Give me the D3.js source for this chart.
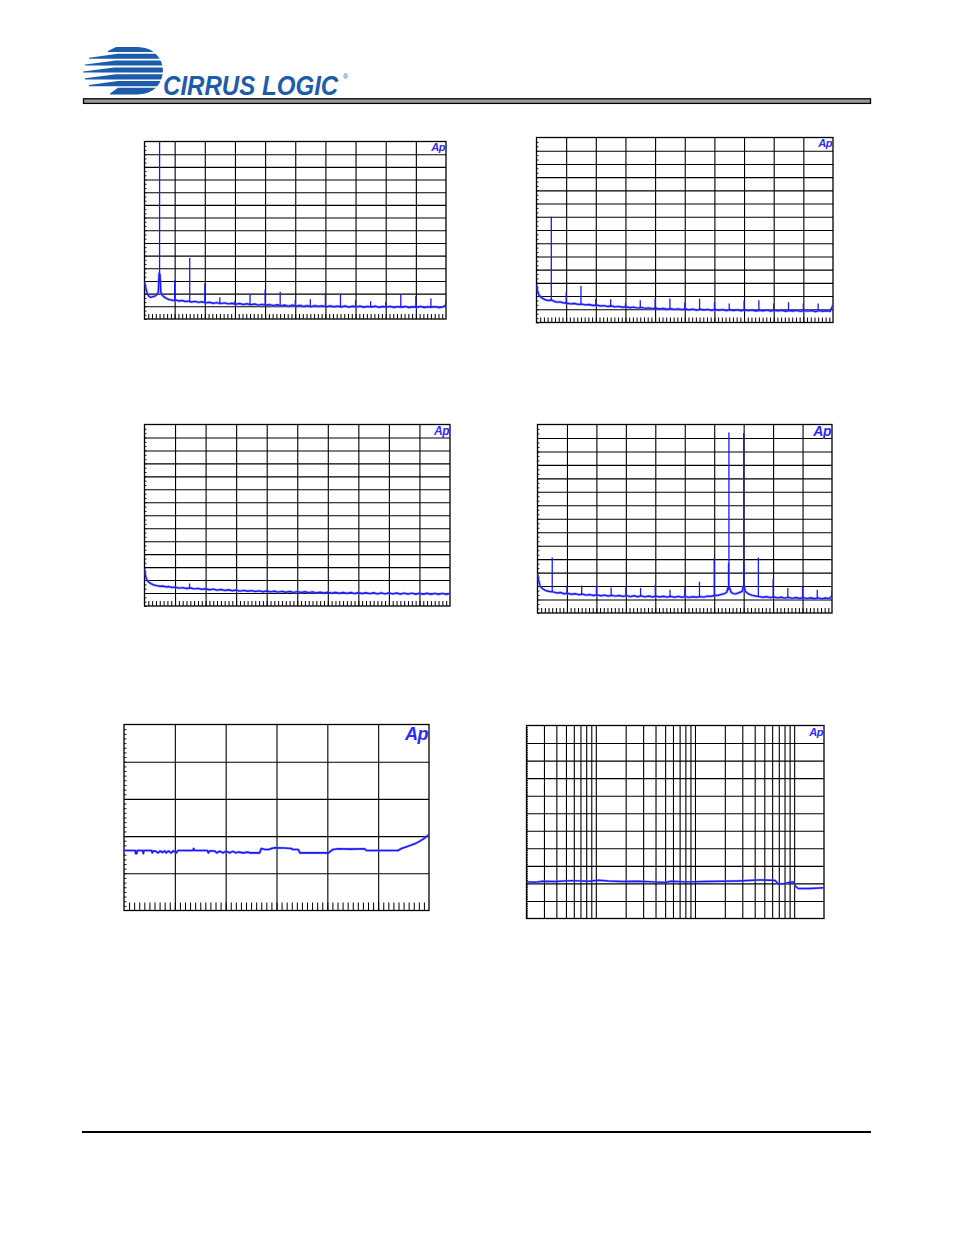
<!DOCTYPE html>
<html>
<head>
<meta charset="utf-8">
<script src="https://cdn.jsdelivr.net/npm/d3@7"></script>
<style>
html,body{margin:0;padding:0;background:#fff;}
svg{display:block;}
</style>
</head>
<body>
<svg id="page" width="954" height="1235"></svg>
<script>
// ---------------- DATA ----------------
// FFT panels: x in kHz, y in dBFS. Floors are [kHz, dB]; spikes are [kHz, base dB, peak dB]
const fft1Floor = [[0,-110.5],[0.08,-115.5],[0.18,-119.8],[0.3,-122.2],[0.42,-122.9],[0.55,-122.4],[0.7,-121.9],[0.82,-120.8],[0.92,-118.5],[0.97,-104],[1.03,-105],[1.08,-118.8],[1.18,-121.2],[1.3,-122.6],[1.45,-123.7],[1.6,-124.6],[1.75,-124.9],[1.9,-125.4],[2.1,-125.1],[2.3,-125.8],[2.5,-125.4],[2.7,-126.2],[2.9,-125.9],[3.1,-126.6],[3.35,-126.1],[3.6,-126.9],[3.8,-126.4],[4.05,-127.3],[4.3,-126.8],[4.55,-127.6],[4.8,-127.1],[5.05,-127.9],[5.3,-127.3],[5.55,-128.1],[5.8,-127.6],[6.05,-128.4],[6.3,-127.8],[6.55,-128.6],[6.8,-128.0],[7.05,-128.8],[7.3,-128.2],[7.55,-129.1],[7.8,-128.5],[8.05,-129.2],[8.3,-128.6],[8.55,-129.5],[8.8,-128.8],[9.05,-129.6],[9.3,-129.0],[9.55,-129.8],[9.8,-129.1],[10.05,-129.9],[10.3,-129.2],[10.55,-130.1],[10.8,-129.4],[11.05,-130.2],[11.3,-129.5],[11.55,-130.0],[11.8,-129.6],[12.05,-130.4],[12.3,-129.7],[12.55,-130.3],[12.8,-129.8],[13.05,-130.5],[13.3,-129.7],[13.55,-130.6],[13.8,-129.9],[14.05,-130.4],[14.3,-129.8],[14.55,-130.7],[14.8,-130.0],[15.05,-130.5],[15.3,-129.9],[15.55,-130.8],[15.8,-130.1],[16.05,-130.6],[16.3,-130.0],[16.55,-130.9],[16.8,-130.2],[17.05,-130.7],[17.3,-130.1],[17.55,-131.0],[17.8,-130.3],[18.05,-130.8],[18.3,-130.1],[18.55,-130.9],[18.8,-130.4],[19.05,-130.7],[19.3,-130.2],[19.55,-131.0],[19.8,-130.4],[20,-129.0]];
const fft1Spikes = [[1,-104,0],[2,-125,-109.4],[3,-126,-91.9],[4,-127,-112],[5,-127.5,-122.8],[6,-128,-125.7],[7,-128.5,-120.7],[8,-129,-116.8],[9,-129,-118.6],[10,-129.5,-125],[11,-129.5,-124.4],[12,-129.8,-119.7],[13,-130,-120.7],[14,-130,-125],[15,-130,-126],[16,-130.2,-126.5],[17,-130.3,-120.2],[18,-130.3,-121.8],[19,-130.4,-123.9],[19.98,-129.5,-125]];

const fft2Floor = [[0,-111],[0.06,-115.5],[0.15,-118.8],[0.3,-121],[0.45,-122],[0.6,-122.8],[0.8,-123.4],[0.95,-123],[1.05,-123.2],[1.2,-124.1],[1.4,-124.6],[1.6,-124.4],[1.8,-125.1],[2.05,-125.4],[2.3,-125.9],[2.55,-125.6],[2.8,-126.3],[3.05,-126.1],[3.3,-126.7],[3.55,-126.4],[3.8,-127.1],[4.05,-126.8],[4.3,-127.5],[4.55,-127.2],[4.8,-127.9],[5.05,-127.5],[5.3,-128.2],[5.55,-127.8],[5.8,-128.5],[6.05,-128.1],[6.3,-128.8],[6.55,-128.4],[6.8,-129.1],[7.05,-128.6],[7.3,-129.3],[7.55,-128.9],[7.8,-129.5],[8.05,-129.1],[8.3,-129.8],[8.55,-129.3],[8.8,-130.0],[9.05,-129.5],[9.3,-130.1],[9.55,-129.7],[9.8,-130.3],[10.05,-129.8],[10.3,-130.4],[10.55,-129.9],[10.8,-130.6],[11.05,-130.0],[11.3,-130.5],[11.55,-130.1],[11.8,-130.8],[12.05,-130.2],[12.3,-130.7],[12.55,-130.3],[12.8,-131.0],[13.05,-130.4],[13.3,-130.9],[13.55,-130.4],[13.8,-131.1],[14.05,-130.5],[14.3,-131.0],[14.55,-130.6],[14.8,-131.3],[15.05,-130.7],[15.3,-131.1],[15.55,-130.6],[15.8,-131.4],[16.05,-130.8],[16.3,-131.2],[16.55,-130.7],[16.8,-131.5],[17.05,-130.9],[17.3,-131.3],[17.55,-130.8],[17.8,-131.6],[18.05,-131.0],[18.3,-131.4],[18.55,-130.9],[18.8,-131.7],[19.05,-131.0],[19.3,-131.5],[19.55,-131.1],[19.8,-131.6],[20,-127.0]];
const fft2Spikes = [[1,-123,-60],[2,-125.4,-117.3],[3,-126.1,-112.3],[4,-126.9,-122.4],[5,-127.6,-122.4],[6,-128.2,-125.6],[7,-128.7,-123.1],[8,-129.2,-121.8],[9,-129.6,-121.8],[10,-129.9,-124.9],[11,-130.1,-122.1],[12,-130.3,-124.4],[13,-130.5,-125.6],[14,-130.6,-123.4],[15,-130.8,-123.1],[16,-130.9,-125.6],[17,-131,-124.6],[18,-131.1,-125.6],[19,-131.2,-125.6]];

const fft3Floor = [[0,-111.2],[0.04,-115],[0.1,-118.4],[0.18,-120.3],[0.3,-121.8],[0.45,-122.9],[0.6,-123.8],[0.8,-124.3],[1.0,-124.8],[1.2,-124.6],[1.4,-125.3],[1.6,-125.0],[1.8,-125.7],[2.0,-125.4],[2.25,-126.2],[2.5,-125.8],[2.75,-126.5],[3.0,-126.1],[3.25,-126.8],[3.5,-126.4],[3.75,-127.1],[4.0,-126.7],[4.25,-127.5],[4.5,-127.0],[4.75,-127.8],[5.0,-127.3],[5.25,-128.0],[5.5,-127.5],[5.75,-128.2],[6.0,-127.7],[6.25,-128.5],[6.5,-127.9],[6.75,-128.6],[7.0,-128.1],[7.25,-128.8],[7.5,-128.3],[7.75,-129.0],[8.0,-128.4],[8.25,-129.1],[8.5,-128.6],[8.75,-129.3],[9.0,-128.7],[9.25,-129.4],[9.5,-128.8],[9.75,-129.5],[10.0,-128.9],[10.25,-129.6],[10.5,-129.0],[10.75,-129.7],[11.0,-129.1],[11.25,-129.9],[11.5,-129.3],[11.75,-130.0],[12.0,-129.4],[12.25,-130.1],[12.5,-129.5],[12.75,-130.2],[13.0,-129.6],[13.25,-130.3],[13.5,-129.6],[13.75,-130.4],[14.0,-129.7],[14.25,-130.4],[14.5,-129.8],[14.75,-130.5],[15.0,-129.8],[15.25,-130.6],[15.5,-129.9],[15.75,-130.6],[16.0,-130.0],[16.25,-130.7],[16.5,-130.0],[16.75,-130.8],[17.0,-130.1],[17.25,-130.8],[17.5,-130.1],[17.75,-130.9],[18.0,-130.2],[18.25,-130.9],[18.5,-130.2],[18.75,-131.0],[19.0,-130.3],[19.25,-131.0],[19.5,-130.3],[19.75,-131.0],[20.0,-130.4]];
const fft3Spikes = [[2.95,-126,-122.7]];

const fft4Floor = [[0,-110.4],[0.06,-115],[0.18,-120.2],[0.35,-122],[0.55,-123.3],[0.8,-124],[1.05,-124.3],[1.3,-125.1],[1.55,-124.8],[1.8,-125.7],[2.05,-125.4],[2.3,-126.1],[2.55,-125.7],[2.8,-126.4],[3.05,-126.0],[3.3,-126.7],[3.55,-126.3],[3.8,-127.0],[4.05,-126.5],[4.3,-127.2],[4.55,-126.7],[4.8,-127.4],[5.05,-126.9],[5.3,-127.5],[5.55,-127.0],[5.8,-127.7],[6.05,-127.1],[6.3,-127.8],[6.55,-127.2],[6.8,-127.9],[7.05,-127.3],[7.3,-128.0],[7.55,-127.4],[7.8,-128.1],[8.05,-127.5],[8.3,-128.1],[8.55,-127.6],[8.8,-128.2],[9.05,-127.6],[9.3,-128.3],[9.55,-127.7],[9.8,-128.3],[10.05,-127.8],[10.3,-128.4],[10.55,-127.9],[10.8,-128.3],[11.05,-127.8],[11.3,-128.2],[11.55,-127.5],[11.8,-127.6],[12.05,-127.0],[12.3,-126.8],[12.5,-126.2],[12.7,-125.6],[12.85,-124.6],[12.95,-121],[13.05,-121.5],[13.15,-124.6],[13.3,-125.6],[13.45,-125.8],[13.6,-125.2],[13.75,-124.6],[13.9,-124.0],[13.97,-120.5],[14.05,-121],[14.12,-124.0],[14.25,-125.2],[14.4,-126.2],[14.6,-126.9],[14.8,-127.4],[15.05,-127.8],[15.3,-128.3],[15.55,-127.9],[15.8,-128.6],[16.05,-128.1],[16.3,-128.8],[16.55,-128.3],[16.8,-129.0],[17.05,-128.4],[17.3,-129.1],[17.55,-128.5],[17.8,-129.2],[18.05,-128.6],[18.3,-129.3],[18.55,-128.7],[18.8,-129.4],[19.05,-128.8],[19.3,-129.5],[19.55,-128.9],[19.8,-129.3],[20,-127.5]];
const fft4Spikes = [[1,-124.3,-98.8],[2,-125.4,-119.5],[3,-126,-119.5],[4,-126.5,-119.8],[5,-126.9,-121],[6,-127.1,-121],[7,-127.3,-121.5],[8,-127.5,-119],[9,-127.6,-122.7],[10,-127.8,-121],[11,-127.8,-116.8],[12,-127,-99.3],[12.97,-123,-103],[13,-121,-5.9],[14,-120.5,-6.4],[14.03,-122,-104],[15,-127.8,-98.8],[16,-128.1,-114.8],[17,-128.4,-121.5],[18,-128.6,-120.3],[19,-128.8,-122.7],[19.98,-127.5,-123.5]];

// Panel 5: linear x (0..60), y in dB (-100..-50)
const sweep5 = [[0,-83.87],[2.2,-83.87],[2.3,-84.68],[2.5,-84.68],[2.6,-83.87],[3.7,-83.87],[3.8,-84.68],[3.95,-83.87],[5.4,-83.87],[5.55,-84.5],[5.7,-84.05],[6.2,-84.05],[6.7,-84.5],[7.1,-84.0],[7.6,-84.4],[8.0,-84.0],[8.3,-84.5],[8.7,-84.0],[9.3,-84.5],[9.7,-83.95],[10.3,-84.5],[10.6,-83.87],[13.55,-83.87],[13.7,-83.33],[13.9,-83.87],[16.4,-83.87],[16.6,-84.5],[16.9,-83.95],[17.8,-84.0],[18.3,-84.5],[18.8,-84.05],[19.5,-84.5],[20.0,-84.1],[20.8,-84.5],[21.4,-84.1],[22.0,-84.5],[22.6,-84.3],[23.4,-84.5],[24.4,-84.3],[24.7,-84.5],[26.7,-84.5],[27.0,-83.33],[27.7,-83.6],[28.5,-83.6],[29.0,-83.33],[29.6,-83.15],[31.5,-83.2],[32.9,-83.33],[33.2,-83.6],[34.3,-83.6],[34.6,-84.5],[39.8,-84.5],[40.1,-84.68],[40.4,-84.3],[41.1,-83.6],[42.1,-83.42],[44.5,-83.5],[47.3,-83.42],[47.7,-83.87],[53.9,-83.87],[54.6,-83.33],[55.9,-82.7],[57.2,-82.08],[58.2,-81.36],[59.2,-80.47],[60,-79.57]];

// Panel 6: log x (20 Hz .. 20 kHz), y in dB (-1.0 .. +0.1)
const resp6 = [[20,-0.791],[25,-0.793],[29,-0.788],[39,-0.789],[57,-0.784],[85,-0.788],[106,-0.782],[134,-0.786],[182,-0.789],[267,-0.788],[392,-0.791],[494,-0.795],[575,-0.788],[845,-0.791],[1240,-0.789],[1820,-0.788],[2670,-0.786],[3920,-0.782],[4570,-0.780],[5750,-0.782],[6430,-0.783],[6950,-0.803],[7810,-0.801],[9120,-0.793],[9840,-0.791],[10300,-0.816],[11000,-0.829],[14450,-0.829],[20000,-0.825]];

const logGrid6 = [30,40,50,60,70,80,90,100,200,300,400,500,600,700,800,900,1000,2000,3000,4000,5000,6000,7000,8000,9000,10000];
const brandName = "CIRRUS LOGIC";
const apMark = "Ap";

// ---------------- DRAWING ----------------
const svg = d3.select("#page");
const TRACE = "#1a1aff";
const LOGO = "#1d5cab";

// header logo
const defs = svg.append("defs");
const cp = defs.append("clipPath").attr("id","logoClip");
cp.append("rect").attr("x",70).attr("y",40).attr("width",69.5).attr("height",60);
cp.append("circle").attr("cx",139.5).attr("cy",70.8).attr("r",23.5);
const logoG = svg.append("g").attr("clip-path","url(#logoClip)");
const stripes = [
  {t:47.0,b:52.0,xl:108,xs:116},
  {t:53.8,b:58.8,xl:89,xs:118},
  {t:60.6,b:65.6,xl:85,xs:116},
  {t:67.4,b:72.6,xl:83,xs:114},
  {t:74.2,b:79.4,xl:85,xs:116},
  {t:81.0,b:86.2,xl:89,xs:118},
  {t:87.8,b:94.5,xl:110,xs:118}
];
stripes.forEach(s=>{
  logoG.append("path")
    .attr("d",`M${s.xl},${s.b-1.1} L${s.xs},${s.t} L170,${s.t} L170,${s.b} L${s.xl},${s.b} Z`)
    .attr("fill",LOGO);
});
svg.append("text").attr("transform","translate(163,95) scale(0.86,1)").text(brandName)
  .attr("font-family","'Liberation Sans', Arial, sans-serif").attr("font-style","italic")
  .attr("font-weight","bold")
  .attr("font-size",28).attr("fill",LOGO);
svg.append("text").attr("x",343).attr("y",79).text("®").attr("font-family","'Liberation Sans', Arial")
  .attr("font-size",7).attr("fill",LOGO);
svg.append("rect").attr("x",83.5).attr("y",98.8).attr("width",787).attr("height",4.6)
  .attr("fill","#9a9a9a").attr("stroke","#000").attr("stroke-width",1.3);

// footer rule
svg.append("line").attr("x1",82).attr("x2",871).attr("y1",1132).attr("y2",1132)
  .attr("stroke","#000").attr("stroke-width",2.2);

let clipId = 0;
function drawPanel(p){
  const x = p.x, y = p.y;
  const [x0,x1] = x.range(), [y1,y0] = y.range();
  const g = svg.append("g");
  const W = x1-x0, H = y1-y0;
  // grid through axes
  g.append("g").attr("transform",`translate(0,${y1})`)
    .call(d3.axisBottom(x).tickValues(p.xGrid).tickSize(-H).tickFormat(""))
    .call(s=>s.select(".domain").remove())
    .selectAll("line").attr("stroke","#000").attr("stroke-width",1.1);
  g.append("g").attr("transform",`translate(${x0},0)`)
    .call(d3.axisLeft(y).tickValues(p.yGrid).tickSize(-W).tickFormat(""))
    .call(s=>s.select(".domain").remove())
    .selectAll("line").attr("stroke","#000").attr("stroke-width",1.1);
  // minor ticks
  if(p.xMinor){
    g.append("g").attr("transform",`translate(0,${y1})`)
      .call(d3.axisBottom(x).tickValues(p.xMinor).tickSize(-p.xMinorLen).tickFormat(""))
      .call(s=>s.select(".domain").remove())
      .selectAll("line").attr("stroke","#000").attr("stroke-width",1);
  }
  if(p.yMinor){
    g.append("g").attr("transform",`translate(${x0},0)`)
      .call(d3.axisLeft(y).tickValues(p.yMinor).tickSize(-p.yMinorLen).tickFormat(""))
      .call(s=>s.select(".domain").remove())
      .selectAll("line").attr("stroke","#000").attr("stroke-width",0.9);
  }
  // frame
  g.append("rect").attr("x",x0).attr("y",y0).attr("width",W).attr("height",H)
    .attr("fill","none").attr("stroke","#000").attr("stroke-width",1.3);
  // data
  const id = "pc"+(clipId++);
  defs.append("clipPath").attr("id",id).append("rect").attr("x",x0).attr("y",y0-1).attr("width",W).attr("height",H+1);
  const dg = g.append("g").attr("clip-path",`url(#${id})`);
  const line = d3.line().x(d=>x(d[0])).y(d=>y(d[1]));
  if(p.halo){
    dg.append("path").datum(p.trace).attr("d",line).attr("fill","none")
      .attr("stroke","#7a7aff").attr("stroke-opacity",0.55).attr("stroke-width",p.halo)
      .attr("stroke-linejoin","round");
  }
  dg.append("path").datum(p.trace).attr("d",line).attr("fill","none")
    .attr("stroke",TRACE).attr("stroke-width",p.lw||1.2).attr("stroke-linejoin","round");
  if(p.spikes){
    dg.selectAll("line.sp").data(p.spikes).join("line").attr("class","sp")
      .attr("x1",d=>x(d[0])).attr("x2",d=>x(d[0]))
      .attr("y1",d=>y(d[1])).attr("y2",d=>y(d[2]))
      .attr("stroke",TRACE).attr("stroke-width",1.3);
  }
  // Ap mark
  g.append("text").attr("x",x1-p.apDx).attr("y",y0+p.apDy).attr("text-anchor","end")
    .text(apMark).attr("font-family","'Liberation Sans', Arial, sans-serif")
    .attr("font-weight","bold").attr("font-style","italic").attr("font-size",p.apSize)
    .attr("fill","#2a2aff").attr("letter-spacing",-0.5);
}

const fftXGrid = d3.range(2,20,2);
const fftYGrid = d3.range(-130,0,10);
const fftXMinor = d3.range(0.25,20,0.25);
const fftYMinor = d3.range(-140,0,10/3);

const fftPanels = [
  {box:[144.5,446,141.5,319], floor:fft1Floor, spikes:fft1Spikes, ap:[1,9,11]},
  {box:[536.5,833,137.5,322.5], floor:fft2Floor, spikes:fft2Spikes, ap:[1,9,11]},
  {box:[144.5,450,424.5,606], floor:fft3Floor, spikes:fft3Spikes, ap:[1,10,12]},
  {box:[537.5,832,424.5,613], floor:fft4Floor, spikes:fft4Spikes, ap:[1,11,14]}
];
fftPanels.forEach(fp=>{
  const [x0,x1,y0,y1] = fp.box;
  drawPanel({
    x: d3.scaleLinear().domain([0,20]).range([x0,x1]),
    y: d3.scaleLinear().domain([-140,0]).range([y1,y0]),
    xGrid: fftXGrid, yGrid: fftYGrid,
    xMinor: fftXMinor, xMinorLen: 5,
    yMinor: fftYMinor, yMinorLen: 2,
    trace: fp.floor, spikes: fp.spikes, lw: 1.4, halo: 2.8,
    apDx: 1, apDy: fp.ap[1], apSize: fp.ap[2]
  });
});

// panel 5
drawPanel({
  x: d3.scaleLinear().domain([0,60]).range([124,429]),
  y: d3.scaleLinear().domain([-100,-50]).range([910.5,724.5]),
  xGrid: d3.range(10,60,10), yGrid: d3.range(-90,-50,10),
  xMinor: d3.range(1,60,1), xMinorLen: 8,
  yMinor: d3.range(-98.75,-50,1.25), yMinorLen: 2.5,
  trace: sweep5, lw: 1.6, halo: 2.6,
  apDx: 1, apDy: 15, apSize: 18
});

// panel 6
drawPanel({
  x: d3.scaleLog().domain([20,20000]).range([526.5,824]),
  y: d3.scaleLinear().domain([-1.0,0.1]).range([918.5,725.5]),
  xGrid: logGrid6, yGrid: d3.range(-0.9,0.05,0.1),
  yMinor: d3.range(-0.99,0.1,0.01), yMinorLen: 1.5,
  trace: resp6, lw: 1.4, halo: 2.4,
  apDx: 1, apDy: 10, apSize: 11
});
</script>
</body>
</html>
